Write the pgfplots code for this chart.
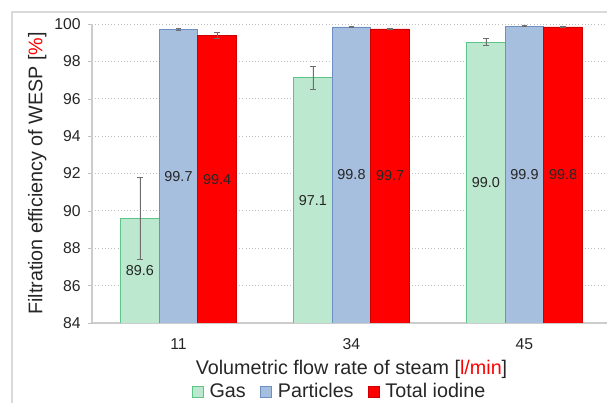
\documentclass[border=0pt]{standalone}
\usepackage{pgfplots}
\pgfplotsset{compat=1.18}
\usepackage{fontspec}
\setmainfont{Liberation Sans}
\definecolor{gasfill}{RGB}{187,232,206}
\definecolor{gasdraw}{RGB}{92,196,134}
\definecolor{partfill}{RGB}{167,191,223}
\definecolor{partdraw}{RGB}{110,143,194}
\definecolor{iodred}{RGB}{255,0,0}
\definecolor{errgray}{RGB}{110,110,110}
\begin{document}
\begin{tikzpicture}
\useasboundingbox (0,0) rectangle (455.25pt,302.25pt);
\begin{axis}[
  at={(69pt,60pt)}, anchor=south west,
  scale only axis,
  width=389.25pt, height=224.25pt,
  ybar=0pt, bar width=28.9pt,
  xmin=-0.5, xmax=2.5,
  ymin=84, ymax=100,
  ytick={84,86,...,100},
  xtick={0,1,2},
  xticklabels={11,34,45},
  minor xtick={-0.5,0.5,1.5,2.5},
  xtick style={draw=none},
  minor x tick style={gray!50},
  ytick style={gray!50},
  major tick length=3pt, minor tick length=4pt,
  tick align=outside,
  axis x line*=bottom, axis y line*=left,
  axis line style={gray!40, line width=0.8pt},
  ymajorgrids,
  major grid style={gray!50, dotted, line width=0.6pt},
  /pgf/number format/assume math mode=true,
  ticklabel style={font=\fontsize{11.8}{13}\selectfont, text=black!85},
  xticklabel style={yshift=-5pt},
  yticklabel style={xshift=-2pt},
  xlabel={Volumetric flow rate of steam [\textcolor{iodred}{l/min}]},
  ylabel={Filtration efficiency of WESP [\textcolor{iodred}{\%}]},
  label style={font=\fontsize{14.8}{16}\selectfont, text=black!85},
  xlabel style={at={(axis description cs:0.5,0)}, anchor=center, yshift=-35pt},
  ylabel style={at={(axis description cs:0,0.5)}, anchor=center, yshift=41pt},
  legend columns=3,
  legend style={draw=none, fill=none, at={(rel axis cs:0.478,-0.23)}, anchor=center,
    font=\fontsize{14.8}{16}\selectfont, text=black!85,
    /tikz/every odd column/.append style={column sep=2.5pt},
    /tikz/every even column/.append style={column sep=9pt}},
  legend image code/.code={\draw[#1] (0pt,-4pt) rectangle (8pt,4pt);},
  error bars/y dir=both, error bars/y explicit,
  error bars/error bar style={errgray, line width=0.6pt},
  error bars/error mark options={rotate=90, errgray, mark size=2pt, line width=0.6pt},
  visualization depends on={y \as \rawy},
  nodes near coords={\pgfmathprintnumber[fixed,fixed zerofill,precision=1]{\pgfplotspointmeta}},
  nodes near coords style={anchor=center, font=\fontsize{10.8}{12}\selectfont, text=black!85,
    yshift={-(\rawy-84)*7.0078pt}},
]
\addplot[fill=gasfill, draw=gasdraw, line width=0.6pt] coordinates {
  (0,89.6) +- (0,2.2)
  (1,97.12) +- (0,0.6)
  (2,99.03) +- (0,0.2)
};
\addplot[fill=partfill, draw=partdraw, line width=0.6pt] coordinates {
  (0,99.72) +- (0,0.05)
  (1,99.84) +- (0,0.03)
  (2,99.89) +- (0,0.02)
};
\addplot[fill=iodred, draw=iodred!80!black, line width=0.4pt] coordinates {
  (0,99.38) +- (0,0.15)
  (1,99.74) +- (0,0.04)
  (2,99.84) +- (0,0.03)
};
\legend{Gas, Particles, Total iodine}
\end{axis}
\draw[gray!30, line width=0.8pt] (9pt,-10pt) -- (9pt,293.25pt) -- (470pt,293.25pt);
\end{tikzpicture}
\end{document}
